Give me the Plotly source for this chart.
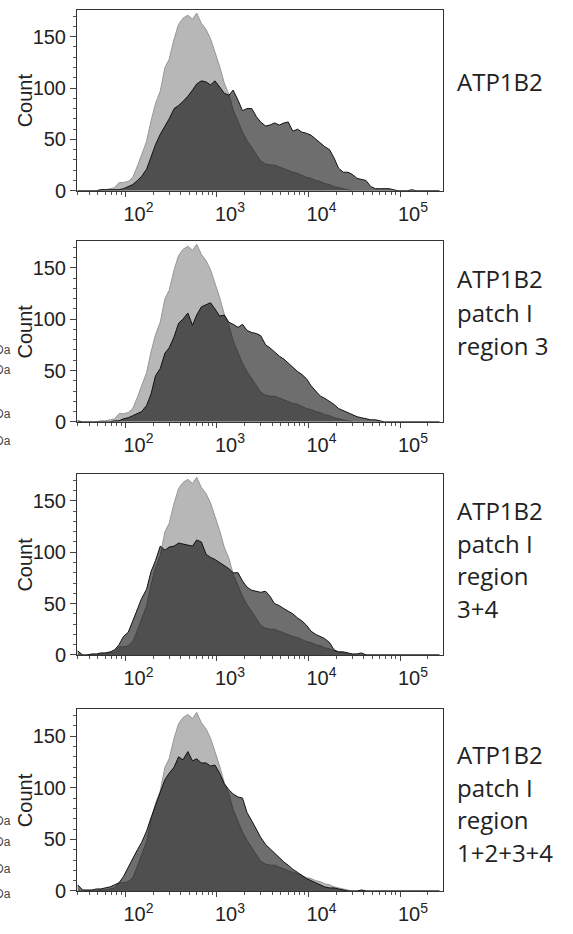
import plotly.graph_objects as go

# Fluorescence intensity grid (x values)
XVALS = [30, 34, 38, 43, 48, 54, 60, 68, 76, 85, 95,
         107, 120, 135, 150, 170, 190, 213, 240, 270, 300, 340, 380, 425, 480, 540, 600, 675, 760, 850, 950,
         1070, 1200, 1350, 1500, 1700, 1900, 2130, 2400, 2700, 3000, 3400, 3800, 4250, 4800, 5400, 6000, 6750, 7600, 8500, 9500,
         10700, 12000, 13500, 15000, 17000, 19000, 21300, 24000, 27000, 30000, 34000, 38000, 42500, 48000, 54000, 60000, 67500, 76000, 85000, 95000,
         107000, 120000, 135000, 150000, 170000, 190000, 213000, 240000, 270000]

# Control histogram (light gray, same in all panels)
CONTROL = [0, 0, 0, 0, 0, 1, 1, 2, 3, 8, 8, 9, 13, 24, 35, 48, 68, 85, 97, 120,
           128, 148, 162, 168, 171, 167, 173, 163, 157, 148, 135, 121, 105, 94, 79, 68, 57, 49, 42, 34,
           29, 26, 25, 25, 23, 21, 20, 18, 17, 15, 13, 12, 10, 9, 7, 6, 4, 3, 2, 1,
           0, 0, 0, 0, 0, 0, 0, 0, 0, 0, 0, 0, 0, 0, 0, 0, 0, 0, 0, 0]

# Sample histograms
ATP1B2 = [0, 0, 0, 0, 0, 1, 1, 1, 1, 1, 2, 4, 6, 10, 14, 21, 33, 45, 55, 63,
          70, 80, 83, 87, 92, 98, 104, 107, 106, 103, 107, 101, 95, 93, 98, 88, 78, 80, 80, 72,
          67, 63, 64, 66, 64, 66, 67, 58, 60, 57, 56, 54, 50, 46, 43, 40, 32, 22, 18, 18,
          16, 12, 11, 10, 4, 2, 2, 2, 2, 1, 0, 0, 0, 1, 0, 0, 0, 0, 0, 0]

PATCH_R3 = [1, 0, 0, 0, 0, 0, 0, 0, 1, 1, 3, 4, 6, 8, 10, 16, 27, 45, 52, 67,
            72, 83, 96, 100, 106, 94, 104, 112, 114, 116, 110, 103, 104, 97, 95, 92, 95, 89, 87, 86,
            84, 75, 72, 68, 64, 61, 57, 53, 49, 46, 42, 35, 30, 25, 23, 20, 17, 13, 11, 9,
            7, 5, 4, 3, 2, 2, 1, 0, 0, 0, 0, 0, 0, 0, 0, 0, 0, 0, 0, 0]

PATCH_R34 = [4, 0, 0, 1, 1, 2, 2, 3, 5, 10, 18, 22, 33, 44, 55, 64, 81, 92, 106, 102,
             105, 106, 109, 108, 107, 106, 112, 110, 98, 95, 93, 90, 87, 84, 80, 80, 72, 66, 63, 62,
             61, 62, 57, 50, 48, 45, 43, 40, 36, 33, 29, 23, 20, 18, 16, 12, 5, 3, 3, 2,
             1, 1, 2, 0, 0, 0, 0, 0, 0, 0, 0, 0, 0, 0, 0, 0, 0, 0, 0, 0]

PATCH_R1234 = [6, 1, 1, 1, 2, 2, 3, 4, 6, 8, 14, 23, 32, 40, 47, 58, 71, 83, 97, 108,
               114, 120, 130, 127, 135, 126, 128, 124, 124, 121, 122, 114, 104, 98, 94, 91, 90, 76, 68, 59,
               52, 45, 41, 37, 32, 28, 25, 21, 18, 15, 12, 10, 8, 6, 4, 3, 3, 2, 1, 0,
               0, 0, 1, 0, 0, 0, 0, 0, 0, 0, 0, 0, 0, 0, 0, 0, 0, 0, 0, 0]

SAMPLES = [ATP1B2, PATCH_R3, PATCH_R34, PATCH_R1234]
LABELS = [["ATP1B2"],
          ["ATP1B2", "patch I", "region 3"],
          ["ATP1B2", "patch I", "region", "3+4"],
          ["ATP1B2", "patch I", "region", "1+2+3+4"]]
X_TICKVALS = [100, 1000, 10000, 100000]
X_TICKTEXT = ["10<sup>2</sup>", "10<sup>3</sup>", "10<sup>4</sup>", "10<sup>5</sup>"]
Y_TICKVALS = [0, 50, 100, 150]

# ---------------- layout geometry (pixels) ----------------
W, H = 573, 934
ML, MT = 77, 9
PW, PH = 366, 892
MR = W - ML - PW
MB = H - MT - PH
PANELS = [(9, 192), (243, 426), (479, 662), (717, 901)]  # top, bottom px
LABEL_Y = [[81], [281, 315, 349], [516, 549, 582, 615], [763, 796, 829, 862]]
DA_Y = [[353, 374, 418, 445], [830, 851, 879, 904]]


def py(p):
    return (MT + PH - p) / PH


def px(p):
    return (p - ML) / PW


minor_x = [m * 10 ** e for e in range(1, 6) for m in range(2, 10)]
minor_x = [v for v in minor_x if 29 < v < 300000]

fig = go.Figure()
axis_font = dict(family="Liberation Sans, Arial, sans-serif", size=20, color="#222")
annotations = []

for k, sample in enumerate(SAMPLES):
    n = "" if k == 0 else str(k + 1)
    xa, ya = "x" + n, "y" + n
    fig.add_trace(go.Scatter(x=XVALS, y=CONTROL, mode="lines", fill="tozeroy",
                             fillcolor="#b7b7b7", line=dict(color="#969696", width=1),
                             xaxis=xa, yaxis=ya, showlegend=False, hoverinfo="skip"))
    fig.add_trace(go.Scatter(x=XVALS, y=sample, mode="lines", fill="tozeroy",
                             fillcolor="rgba(0,0,0,0.57)", line=dict(color="#111", width=1),
                             xaxis=xa, yaxis=ya, showlegend=False, hoverinfo="skip"))
    top, bot = PANELS[k]
    fig.layout["xaxis" + n] = dict(
        type="log", range=[1.470, 5.470], anchor=ya, domain=[0, 1],
        tickmode="array", tickvals=X_TICKVALS, ticktext=X_TICKTEXT,
        ticks="outside", ticklen=5, tickwidth=1, tickcolor="#444",
        showline=True, mirror=True, linecolor="#333", linewidth=1,
        showgrid=False, zeroline=False, ticklabelshift=13,
        tickfont=axis_font, fixedrange=True,
        minor=dict(tickvals=minor_x, ticks="outside", ticklen=3, tickcolor="#555", showgrid=False),
    )
    fig.layout["yaxis" + n] = dict(
        range=[0, 176], anchor=xa, domain=[py(bot), py(top)],
        tickmode="array", tickvals=Y_TICKVALS,
        ticks="outside", ticklen=6, tickwidth=1, tickcolor="#444",
        showline=True, mirror=True, linecolor="#333", linewidth=1,
        showgrid=False, zeroline=False, tickfont=axis_font, fixedrange=True,
        minor=dict(dtick=10, ticks="outside", ticklen=3, tickcolor="#555", showgrid=False),
    )
    # y axis title
    annotations.append(dict(text="Count", xref="paper", yref="paper", x=px(25),
                            y=py((top + bot) / 2), xanchor="center", yanchor="middle",
                            textangle=-90, showarrow=False, font=axis_font))
    # right labels
    for line, yy in zip(LABELS[k], LABEL_Y[k]):
        annotations.append(dict(text=line, xref="paper", yref="paper", x=px(455), y=py(yy),
                                xanchor="left", yanchor="middle", showarrow=False,
                                font=dict(family="Open Sans, Noto Sans, sans-serif", size=24, color="#222")))

# partially visible "kDa" marker labels cut at the left edge
for group in DA_Y:
    for yy in group:
        annotations.append(dict(text="kDa", xref="paper", yref="paper", x=px(13), y=py(yy),
                                xanchor="right", yanchor="middle", showarrow=False,
                                font=dict(family="Liberation Sans, Arial", size=12, color="#444")))

fig.update_layout(width=W, height=H, margin=dict(l=ML, r=MR, t=MT, b=MB),
                  paper_bgcolor="white", plot_bgcolor="white", annotations=annotations,
                  showlegend=False)
fig.write_html("out.html", config={"displayModeBar": False},
               post_script="document.body.style.margin='0px';")
